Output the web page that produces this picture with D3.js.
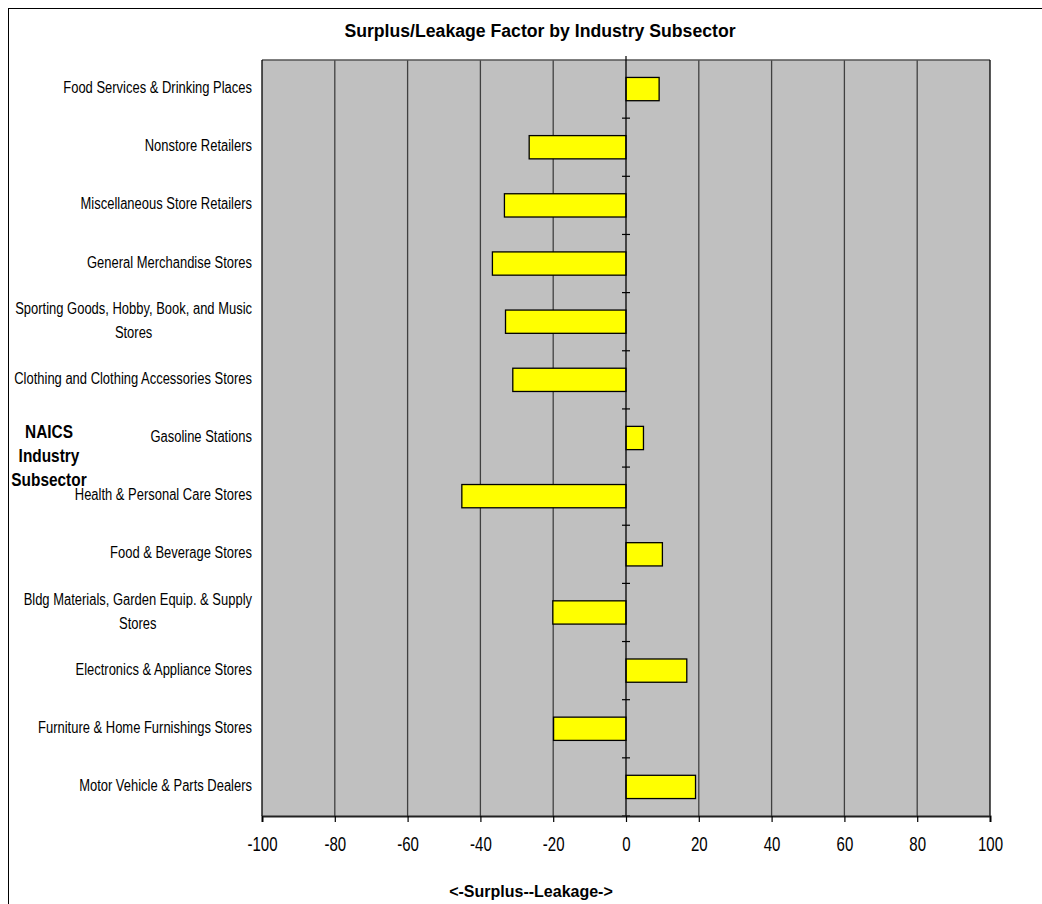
<!DOCTYPE html>
<html>
<head>
<meta charset="utf-8">
<script src="https://cdn.jsdelivr.net/npm/d3@7"></script>
<style>
  html, body { margin: 0; padding: 0; background: #fff; }
  svg { display: block; }
  text { font-family: "Liberation Sans", Arial, sans-serif; fill: #000; }
</style>
</head>
<body>
<svg id="chart" width="1042" height="904"></svg>
<script>
// Subsectors listed top to bottom
const subsectors = [
  "Food Services & Drinking Places",
  "Nonstore Retailers",
  "Miscellaneous Store Retailers",
  "General Merchandise Stores",
  "Sporting Goods, Hobby, Book, and Music Stores",
  "Clothing and Clothing Accessories Stores",
  "Gasoline Stations",
  "Health & Personal Care Stores",
  "Food & Beverage Stores",
  "Bldg Materials, Garden Equip. & Supply Stores",
  "Electronics & Appliance Stores",
  "Furniture & Home Furnishings Stores",
  "Motor Vehicle & Parts Dealers"
];
// Line breaks used for the longer labels
const labelLines = [
  ["Food Services & Drinking Places"],
  ["Nonstore Retailers"],
  ["Miscellaneous Store Retailers"],
  ["General Merchandise Stores"],
  ["Sporting Goods, Hobby, Book, and Music", "Stores"],
  ["Clothing and Clothing Accessories Stores"],
  ["Gasoline Stations"],
  ["Health & Personal Care Stores"],
  ["Food & Beverage Stores"],
  ["Bldg Materials, Garden Equip. & Supply", "Stores"],
  ["Electronics & Appliance Stores"],
  ["Furniture & Home Furnishings Stores"],
  ["Motor Vehicle & Parts Dealers"]
];
// Surplus/leakage factor per subsector
const factors = [9.1, -26.6, -33.4, -36.7, -33.1, -31.1, 4.8, -45.1, 10.0, -20.1, 16.7, -19.9, 19.1];
const xTicks = [-100, -80, -60, -40, -20, 0, 20, 40, 60, 80, 100];

const svg = d3.select("#chart");
const W = 1042, H = 904;
const plot = { left: 262, right: 990, top: 60, bottom: 816 };

// Squeeze a text element horizontally to a fraction of its natural width
function condense(sel, k) {
  sel.each(function () {
    const w = this.getComputedTextLength();
    d3.select(this).attr("textLength", w * k).attr("lengthAdjust", "spacingAndGlyphs");
  });
  return sel;
}

// Outer chart frame
svg.append("rect")
  .attr("x", 8.5).attr("y", 8.5)
  .attr("width", W + 20).attr("height", H + 20)
  .attr("fill", "#fff").attr("stroke", "#000").attr("stroke-width", 1);

const x = d3.scaleLinear().domain([-100, 100]).range([plot.left, plot.right]);
const y = d3.scaleBand().domain(subsectors).range([plot.top, plot.bottom]).paddingInner(0.6).paddingOuter(0.3);
const yBand = d3.scaleBand().domain(subsectors).range([plot.top, plot.bottom]);

// Plot background
svg.append("rect")
  .attr("x", plot.left).attr("y", plot.top)
  .attr("width", plot.right - plot.left).attr("height", plot.bottom - plot.top)
  .attr("fill", "#c0c0c0");

// Vertical gridlines
svg.append("g")
  .selectAll("line")
  .data(xTicks.filter(d => d > -100 && d < 100 && d !== 0))
  .join("line")
  .attr("x1", d => x(d)).attr("x2", d => x(d))
  .attr("y1", plot.top).attr("y2", plot.bottom)
  .attr("stroke", "#404040").attr("stroke-width", 1.3);

// Plot border
svg.append("line").attr("x1", plot.left).attr("x2", plot.right)
  .attr("y1", plot.top).attr("y2", plot.top)
  .attr("stroke", "#555").attr("stroke-width", 1.5);
svg.append("line").attr("x1", plot.left).attr("x2", plot.left)
  .attr("y1", plot.top).attr("y2", plot.bottom)
  .attr("stroke", "#000").attr("stroke-width", 1.3);
svg.append("line").attr("x1", plot.right).attr("x2", plot.right)
  .attr("y1", plot.top).attr("y2", plot.bottom)
  .attr("stroke", "#000").attr("stroke-width", 1.3);

// Bars
svg.append("g")
  .selectAll("rect")
  .data(subsectors.map((s, i) => ({ s, v: factors[i] })))
  .join("rect")
  .attr("x", d => x(Math.min(0, d.v)))
  .attr("y", d => y(d.s))
  .attr("width", d => Math.abs(x(d.v) - x(0)))
  .attr("height", y.bandwidth())
  .attr("fill", "#ffff00")
  .attr("stroke", "#000").attr("stroke-width", 1.3);

// Category axis along zero, ticks between categories
svg.append("line")
  .attr("x1", x(0)).attr("x2", x(0))
  .attr("y1", plot.top).attr("y2", plot.bottom)
  .attr("stroke", "#000").attr("stroke-width", 1.3);
svg.append("g")
  .selectAll("line")
  .data(subsectors)
  .join("line")
  .attr("x1", x(0) - 4).attr("x2", x(0) + 4)
  .attr("y1", d => yBand(d) + yBand.step())
  .attr("y2", d => yBand(d) + yBand.step())
  .attr("stroke", "#000").attr("stroke-width", 1.2);
svg.append("line").attr("x1", x(0)).attr("x2", x(0))
  .attr("y1", plot.top - 4).attr("y2", plot.top)
  .attr("stroke", "#000").attr("stroke-width", 1.2);

// Value axis at bottom
const xAxis = d3.axisBottom(x).tickValues(xTicks).tickSize(6).tickPadding(15).tickFormat(d3.format("d"));
const gx = svg.append("g").attr("transform", `translate(0,${plot.bottom})`).call(xAxis);
gx.select(".domain").attr("stroke", "#222").attr("stroke-width", 2);
gx.selectAll(".tick line").attr("stroke", "#000").attr("stroke-width", 1.2);
gx.selectAll(".tick text")
  .attr("font-size", 20).attr("fill", "#000")
  .style("font-family", '"Liberation Sans", Arial, sans-serif')
  .text(d => d < 0 ? "-" + Math.abs(d) : String(d));
condense(gx.selectAll(".tick text"), 0.75);

// Category labels, right-aligned block with centred lines
const labelRight = plot.left - 10;
const lineH = 24;
const gl = svg.append("g");
subsectors.forEach((s, i) => {
  const lines = labelLines[i];
  const cy = yBand(s) + yBand.bandwidth() / 2 - 1.5;
  const g = gl.append("g");
  const texts = lines.map((ln, j) => g.append("text")
    .attr("font-size", 16)
    .attr("y", cy + (j - (lines.length - 1) / 2) * lineH)
    .attr("dy", "0.35em")
    .text(ln));
  const widths = texts.map(t => t.node().getComputedTextLength() * 0.81);
  texts.forEach(t => condense(t, 0.81));
  const maxW = d3.max(widths);
  const center = labelRight - maxW / 2;
  texts.forEach(t => t.attr("x", center).attr("text-anchor", "middle"));
});

// Titles
const title = svg.append("text")
  .attr("x", 540).attr("y", 31).attr("dy", "0.35em")
  .attr("text-anchor", "middle").attr("font-size", 18).attr("font-weight", "bold")
  .text("Surplus/Leakage Factor by Industry Subsector");
condense(title, 0.98);

const yTitle = ["NAICS", "Industry", "Subsector"];
const yt = svg.append("g").selectAll("text").data(yTitle).join("text")
  .attr("x", 49).attr("y", (d, i) => 432 + i * 24).attr("dy", "0.35em")
  .attr("text-anchor", "middle").attr("font-size", 17.5).attr("font-weight", "bold")
  .text(d => d);
condense(yt, 0.88);

svg.append("text")
  .attr("x", 531).attr("y", 891).attr("dy", "0.35em")
  .attr("text-anchor", "middle").attr("font-size", 16).attr("font-weight", "bold")
  .text("<-Surplus--Leakage->");
</script>
</body>
</html>
